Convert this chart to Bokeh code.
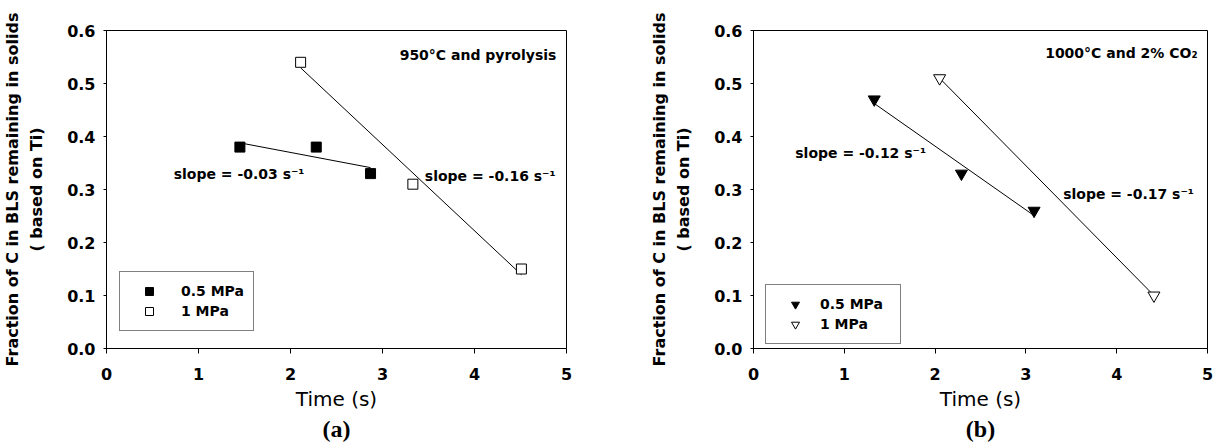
from bokeh.plotting import figure
from bokeh.layouts import row
from bokeh.models import (Label, Legend, LegendItem, FixedTicker,
                          PrintfTickFormatter, Title, Range1d)
from bokeh.embed import file_html
from bokeh.resources import INLINE
import numpy as np

# Panel (a): 950 °C, pyrolysis
a_time_05 = [1.45, 2.28, 2.87]
a_frac_05 = [0.38, 0.38, 0.33]
a_time_1 = [2.11, 3.33, 4.51]
a_frac_1 = [0.54, 0.31, 0.15]

# Panel (b): 1000 °C, 2% CO2
b_time_05 = [1.33, 2.29, 3.09]
b_frac_05 = [0.47, 0.33, 0.26]
b_time_1 = [2.05, 4.41]
b_frac_1 = [0.51, 0.10]

series_labels = ["0.5 MPa", "1 MPa"]
x_ticks = [0, 1, 2, 3, 4, 5]
y_ticks = [0.0, 0.1, 0.2, 0.3, 0.4, 0.5, 0.6]

SANS = "DejaVu Sans"


def fit_line(t, f):
    """Least-squares line over the span of the measured times."""
    k, b = np.polyfit(t, f, 1)
    xs = [min(t), max(t)]
    return xs, [k * x + b for x in xs]


def make_panel(width, left, right, tag):
    p = figure(width=width, height=444, output_backend="svg", toolbar_location=None,
               x_range=Range1d(0, 5), y_range=Range1d(0, 0.6),
               min_border_left=left, min_border_right=right,
               min_border_top=30, min_border_bottom=96)
    p.xgrid.visible = False
    p.ygrid.visible = False
    p.outline_line_color = "black"
    p.outline_line_width = 1
    p.background_fill_color = "white"
    p.border_fill_color = "white"

    for ax in (p.xaxis[0], p.yaxis[0]):
        ax.axis_line_color = "black"
        ax.major_tick_line_color = "black"
        ax.minor_tick_line_color = None
        ax.major_tick_in = 0
        ax.major_label_text_font = SANS
        ax.major_label_text_font_style = "bold"
        ax.major_label_text_font_size = "16px"
        ax.major_label_text_color = "black"
        ax.axis_label_text_color = "black"

    p.xaxis.ticker = FixedTicker(ticks=x_ticks)
    p.xaxis.major_tick_out = 5
    p.xaxis.major_label_standoff = 14
    p.xaxis.axis_label = "Time (s)"
    p.xaxis.axis_label_text_font = SANS
    p.xaxis.axis_label_text_font_style = "normal"
    p.xaxis.axis_label_text_font_size = "20px"
    p.xaxis.axis_label_standoff = 4

    p.yaxis.ticker = FixedTicker(ticks=y_ticks)
    p.yaxis.formatter = PrintfTickFormatter(format="%.1f")
    p.yaxis.major_tick_out = 3
    p.yaxis.major_label_standoff = 8
    p.yaxis.axis_label = "Fraction of C in BLS remaining in solids\n( based on Ti)"
    p.yaxis.axis_label_text_font = SANS
    p.yaxis.axis_label_text_font_style = "bold"
    p.yaxis.axis_label_text_font_size = "16px"
    p.yaxis.axis_label_text_line_height = 1.25
    p.yaxis.axis_label_standoff = 18

    p.add_layout(Title(text=tag, align="center", text_font="Liberation Serif",
                       text_font_style="bold", text_font_size="24px",
                       text_color="black", standoff=0, offset=0), "below")
    return p


def add_series(p, t05, f05, t1, f1, marker, size):
    for t, f in ((t05, f05), (t1, f1)):
        xs, ys = fit_line(t, f)
        p.line(xs, ys, line_color="black", line_width=1)
    r05 = p.scatter(t05, f05, marker=marker, size=size, fill_color="black",
                    line_color="black", line_width=1)
    r1 = p.scatter(t1, f1, marker=marker, size=size, fill_color="white",
                   line_color="black", line_width=1)
    return r05, r1


def add_legend(p, r05, r1, loc, standoff, label_width):
    leg = Legend(items=[LegendItem(label=series_labels[0], renderers=[r05]),
                        LegendItem(label=series_labels[1], renderers=[r1])],
                 location=loc, orientation="vertical",
                 border_line_color="black", border_line_width=1,
                 background_fill_color="white", background_fill_alpha=1,
                 label_text_font=SANS, label_text_font_style="bold",
                 label_text_font_size="14px", label_text_color="black",
                 padding=9, spacing=0, margin=0, glyph_width=40, glyph_height=20,
                 label_height=20, label_standoff=standoff, label_width=label_width)
    p.add_layout(leg)


def note(p, x, y, text, align="left"):
    p.add_layout(Label(x=x, y=y, text=text, text_align=align, text_baseline="middle",
                       text_font=SANS, text_font_style="bold", text_font_size="14px",
                       text_color="black"))


# (a)
pa = make_panel(600, 106, 34, "(a)")
ra05, ra1 = add_series(pa, a_time_05, a_frac_05, a_time_1, a_frac_1, "square", 10)
add_legend(pa, ra05, ra1, (13, 17), 12, 20)
note(pa, 4.89, 0.553, "950°C and pyrolysis", align="right")
note(pa, 0.73, 0.330, "slope = -0.03 s⁻¹")
note(pa, 3.46, 0.326, "slope = -0.16 s⁻¹")

# (b)
pb = make_panel(616, 153, 9, "(b)")
rb05, rb1 = add_series(pb, b_time_05, b_frac_05, b_time_1, b_frac_1, "inverted_triangle", 12)
add_legend(pb, rb05, rb1, (12, 4), 5, 71)
note(pb, 4.89, 0.557, "1000°C and 2% CO₂", align="right")
note(pb, 0.46, 0.368, "slope = -0.12 s⁻¹")
note(pb, 3.41, 0.292, "slope = -0.17 s⁻¹")

layout = row(pa, pb, spacing=0)
open("out.html", "w").write(file_html(layout, INLINE))
